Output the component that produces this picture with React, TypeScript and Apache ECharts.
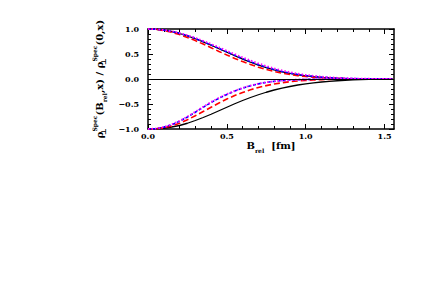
import React, { useEffect, useRef } from "react";
import * as echarts from "echarts";

const xs = [0, 0.05, 0.1, 0.15, 0.2, 0.25, 0.3, 0.35, 0.4, 0.45, 0.5, 0.55, 0.6, 0.65, 0.7, 0.75, 0.8, 0.85, 0.9, 0.95, 1.0, 1.05, 1.1, 1.15, 1.2, 1.25, 1.3, 1.35, 1.4, 1.45, 1.5, 1.55];

const blackUpper = [1, 0.995, 0.978, 0.95, 0.91, 0.862, 0.805, 0.742, 0.675, 0.605, 0.535, 0.465, 0.398, 0.335, 0.277, 0.226, 0.181, 0.143, 0.111, 0.085, 0.064, 0.047, 0.034, 0.024, 0.016, 0.011, 0.007, 0.004, 0.003, 0.002, 0.001, 0];
const redUpper = [1, 0.993, 0.97, 0.935, 0.888, 0.832, 0.768, 0.698, 0.625, 0.552, 0.48, 0.412, 0.348, 0.29, 0.237, 0.191, 0.151, 0.117, 0.089, 0.067, 0.049, 0.035, 0.025, 0.017, 0.011, 0.007, 0.004, 0.002, 0.001, 0, 0, 0];
const blueUpper = [1, 0.995, 0.979, 0.952, 0.913, 0.866, 0.81, 0.748, 0.682, 0.613, 0.543, 0.474, 0.408, 0.345, 0.287, 0.235, 0.19, 0.151, 0.118, 0.091, 0.069, 0.051, 0.037, 0.027, 0.019, 0.013, 0.008, 0.005, 0.003, 0.002, 0.001, 0];
const magentaUpper = [1, 0.996, 0.981, 0.956, 0.92, 0.876, 0.823, 0.764, 0.7, 0.633, 0.565, 0.497, 0.432, 0.37, 0.312, 0.259, 0.212, 0.171, 0.136, 0.106, 0.082, 0.062, 0.046, 0.034, 0.024, 0.017, 0.011, 0.007, 0.005, 0.003, 0.002, 0.001];

const blackLower = [-1, -0.997, -0.985, -0.96, -0.93, -0.885, -0.83, -0.77, -0.705, -0.635, -0.565, -0.495, -0.43, -0.37, -0.315, -0.265, -0.22, -0.182, -0.15, -0.12, -0.096, -0.076, -0.06, -0.046, -0.035, -0.026, -0.019, -0.013, -0.009, -0.006, -0.003, -0.001];
const redLower = [-1, -0.995, -0.975, -0.94, -0.885, -0.815, -0.735, -0.65, -0.565, -0.48, -0.4, -0.33, -0.27, -0.215, -0.17, -0.132, -0.1, -0.075, -0.055, -0.04, -0.028, -0.019, -0.013, -0.008, -0.005, -0.003, -0.001, 0, 0, 0, 0, 0];
const blueLower = [-1, -0.993, -0.965, -0.915, -0.845, -0.76, -0.665, -0.565, -0.47, -0.385, -0.31, -0.242, -0.183, -0.135, -0.097, -0.068, -0.047, -0.032, -0.021, -0.014, -0.009, -0.006, -0.004, -0.002, -0.001, 0, 0, 0, 0, 0, 0, 0];
const magentaLower = [-1, -0.992, -0.962, -0.91, -0.838, -0.752, -0.656, -0.556, -0.46, -0.376, -0.302, -0.236, -0.178, -0.131, -0.094, -0.066, -0.046, -0.031, -0.02, -0.013, -0.008, -0.005, -0.003, -0.002, -0.001, 0, 0, 0, 0, 0, 0, 0];

const xMajorTicks = [0, 0.5, 1.0, 1.5];
const xMinorTicks = [0.1, 0.2, 0.3, 0.4, 0.6, 0.7, 0.8, 0.9, 1.1, 1.2, 1.3, 1.4];
const yMajorTicks = [-1, -0.5, 0, 0.5, 1];
const yMinorTicks = [-0.9, -0.8, -0.7, -0.6, -0.4, -0.3, -0.2, -0.1, 0.1, 0.2, 0.3, 0.4, 0.6, 0.7, 0.8, 0.9];

const X_MIN = 0;
const X_MAX = 1.56;
const FONT = "DejaVu Serif";

function fmt(v: number) {
  return v.toFixed(1).replace("-", "\u2212");
}

export default function App() {
  const ref = useRef<HTMLDivElement>(null);
  useEffect(() => {
    if (!ref.current) return;
    const chart = echarts.init(ref.current, undefined, { renderer: "svg" });

    const axisLine = { show: true, onZero: false, lineStyle: { color: "#000", width: 1.5 } };
    const noLine = { show: false, onZero: false };
    const mkX = (pos: string, ticks: number[], len: number, labels: boolean, line: boolean, extra: any = {}) => ({
      type: "value",
      position: pos,
      min: X_MIN,
      max: X_MAX,
      splitLine: { show: false },
      axisLine: line ? axisLine : noLine,
      axisTick: { show: true, inside: true, length: len, customValues: ticks, lineStyle: { color: "#000", width: 1 } },
      axisLabel: labels
        ? { show: true, customValues: ticks, formatter: (v: number) => fmt(v), margin: 3, color: "#000", fontFamily: FONT, fontWeight: "bold", fontSize: 8 }
        : { show: false },
      ...extra,
    });
    const mkY = (pos: string, ticks: number[], len: number, labels: boolean, line: boolean, extra: any = {}) => ({
      type: "value",
      position: pos,
      min: -1,
      max: 1,
      splitLine: { show: false },
      axisLine: line ? axisLine : noLine,
      axisTick: { show: true, inside: true, length: len, customValues: ticks, lineStyle: { color: "#000", width: 1 } },
      axisLabel: labels
        ? { show: true, customValues: ticks, formatter: (v: number) => fmt(v), margin: 9, color: "#000", fontFamily: FONT, fontWeight: "bold", fontSize: 8 }
        : { show: false },
      ...extra,
    });

    const rich = {
      m: { fontSize: 10, fontWeight: "bold", fontFamily: FONT, color: "#000", lineHeight: 16 },
      sb: { fontSize: 7, fontWeight: "bold", fontFamily: FONT, color: "#000", lineHeight: 7, verticalAlign: "bottom", width: 0.1 },
      sp: { fontSize: 6, fontWeight: "bold", fontFamily: FONT, color: "#000", lineHeight: 6, verticalAlign: "top" },
      sr: { fontSize: 6, fontWeight: "bold", fontFamily: FONT, color: "#000", lineHeight: 6, verticalAlign: "bottom" },
    };

    const mkSeries = (name: string, vals: number[], color: string, type: any, width: number, extra: any = {}) => ({
      name,
      type: "line",
      xAxisIndex: 0,
      yAxisIndex: 0,
      showSymbol: false,
      symbol: "none",
      data: xs.map((x, i) => [x, vals[i]]),
      lineStyle: { color, width, type },
      ...extra,
    });

    chart.setOption({
      animation: false,
      backgroundColor: "#fff",
      grid: { left: 148, right: 42, top: 29, bottom: 171 },
      xAxis: [
        mkX("bottom", xMajorTicks, 5, true, true, {
          name: "{m|B}{sr|rel}{m|  [fm]}",
          nameLocation: "middle",
          nameGap: 4,
          nameTextStyle: { rich, verticalAlign: "top" },
        }),
        mkX("bottom", xMinorTicks, 3, false, false),
        mkX("top", xMajorTicks, 5, false, true),
        mkX("top", xMinorTicks, 3, false, false),
      ],
      yAxis: [
        mkY("left", yMajorTicks, 5, true, true, {
          name: "{m|\u03c1}{sb|\u22a5}{sp|Spec}{m|(B}{sr|rel}{m|,x) / \u03c1}{sb|\u22a5}{sp|Spec}{m|(0,x)}",
          nameLocation: "middle",
          nameRotate: 90,
          nameGap: 35,
          nameTextStyle: { rich },
        }),
        mkY("left", yMinorTicks, 3, false, false),
        mkY("right", yMajorTicks, 5, false, true),
        mkY("right", yMinorTicks, 3, false, false),
      ],
      series: [
        mkSeries("blackUpper", blackUpper, "#000000", "solid", 1.3, {
          markLine: {
            silent: true,
            symbol: ["none", "none"],
            label: { show: false },
            lineStyle: { color: "#000", width: 1, type: "solid" },
            data: [{ yAxis: 0 }],
          },
        }),
        mkSeries("blackLower", blackLower, "#000000", "solid", 1.3),
        mkSeries("redUpper", redUpper, "#ff0000", [6, 3], 1.6),
        mkSeries("redLower", redLower, "#ff0000", [6, 3], 1.6),
        mkSeries("blueUpper", blueUpper, "#0000ff", [3, 2], 1.6),
        mkSeries("blueLower", blueLower, "#0000ff", [3, 2], 1.6),
        mkSeries("magentaUpper", magentaUpper, "#ff00ff", [1.5, 2], 1.8),
        mkSeries("magentaLower", magentaLower, "#ff00ff", [1.5, 2], 1.8),
      ],
    });
    return () => chart.dispose();
  }, []);
  return <div ref={ref} style={{ position: "fixed", left: 0, top: 0, width: 436, height: 300 }} />;
}
